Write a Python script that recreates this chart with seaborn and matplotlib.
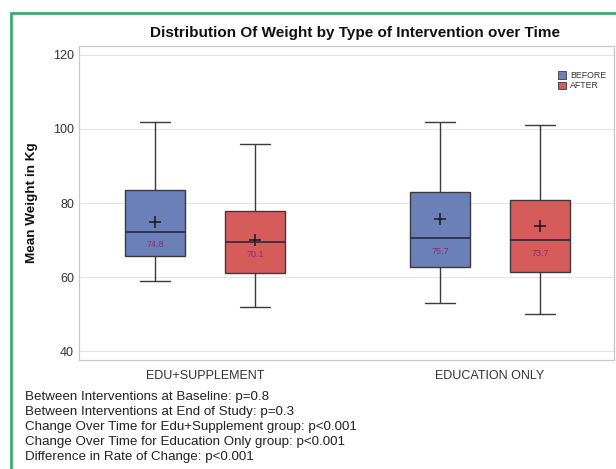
import numpy as np
import pandas as pd
import matplotlib
matplotlib.use("Agg")
import matplotlib.pyplot as plt
from matplotlib.patches import Patch, Rectangle
import seaborn as sns

# Five-number summaries per intervention and time point (kg)
interventions = ["EDU+SUPPLEMENT", "EDUCATION ONLY"]
times = ["BEFORE", "AFTER"]

edu_supp_before = [59, 65.7, 72.2, 83.5, 102]
edu_supp_after = [52, 61.1, 69.5, 77.8, 96]
edu_only_before = [53, 62.6, 70.5, 83.0, 102]
edu_only_after = [50, 61.5, 69.9, 80.9, 101]

# Group means shown as "+" and as value labels
mean_edu_supp = [74.8, 70.1]
mean_edu_only = [75.7, 73.7]

footnotes = [
    "Between Interventions at Baseline: p=0.8",
    "Between Interventions at End of Study: p=0.3",
    "Change Over Time for Edu+Supplement group: p<0.001",
    "Change Over Time for Education Only group: p<0.001",
    "Difference in Rate of Change: p<0.001",
]

summaries = {
    ("EDU+SUPPLEMENT", "BEFORE"): edu_supp_before,
    ("EDU+SUPPLEMENT", "AFTER"): edu_supp_after,
    ("EDUCATION ONLY", "BEFORE"): edu_only_before,
    ("EDUCATION ONLY", "AFTER"): edu_only_after,
}
means = {
    "EDU+SUPPLEMENT": mean_edu_supp,
    "EDUCATION ONLY": mean_edu_only,
}

rows = []
for (grp, t), vals in summaries.items():
    for v in vals:
        rows.append({"Intervention": grp, "Time": t, "Weight": v})
box_df = pd.DataFrame(rows)

mean_rows = []
for grp in interventions:
    for t, m in zip(times, means[grp]):
        mean_rows.append({"Intervention": grp, "Time": t, "Mean": m})
mean_df = pd.DataFrame(mean_rows)

sns.set_theme(style="white")
plt.rcParams["font.family"] = ["Liberation Sans", "DejaVu Sans"]

palette = {"BEFORE": "#6b7fb9", "AFTER": "#d65b5b"}
edge = "#3a3a3a"

fig = plt.figure(figsize=(6.16, 4.69), dpi=100)
ax = fig.add_axes([79 / 616, 1 - 360 / 469, 535 / 616, 314 / 469])

sns.boxplot(
    data=box_df, x="Intervention", y="Weight", hue="Time",
    order=interventions, hue_order=times, palette=palette,
    width=0.7, gap=0.4, whis=(0, 100), saturation=1,
    linecolor=edge, linewidth=1.0, fliersize=0, legend=False, ax=ax,
    medianprops={"color": "#2a2a40", "linewidth": 1.2},
)

sns.pointplot(
    data=mean_df, x="Intervention", y="Mean", hue="Time",
    order=interventions, hue_order=times, palette={t: "#1a1a1a" for t in times},
    dodge=0.35, markers="+", linestyle="none", errorbar=None,
    markersize=9, markeredgewidth=1.1, legend=False, ax=ax,
)

# Mean value labels placed just under each median line
offsets = {"BEFORE": -0.175, "AFTER": 0.175}
for i, grp in enumerate(interventions):
    for t, m in zip(times, means[grp]):
        med = summaries[(grp, t)][2]
        ax.text(i + offsets[t], med - 3.5, f"{m:.1f}", ha="center", va="center",
                fontsize=6.5, color="#8a2c7a")

ax.set_xlim(-0.442, 1.435)
ax.set_ylim(37.6, 122.4)
ax.set_yticks([40, 60, 80, 100, 120])
ax.yaxis.grid(True, color="#e6e6e6", linewidth=0.8)
ax.set_axisbelow(True)
ax.set_xlabel("")
ax.set_ylabel("")
ax.tick_params(axis="both", length=0, labelsize=9, colors="#333333")
ax.tick_params(axis="x", pad=7)
for s in ax.spines.values():
    s.set_color("#c8c8c8")
    s.set_linewidth(0.9)

handles = [Patch(facecolor=palette[t], edgecolor=edge, linewidth=0.6, label=t) for t in times]
ax.legend(handles=handles, loc="upper right", bbox_to_anchor=(1.0, 0.945), frameon=False,
          fontsize=6.3, handlelength=0.9, handleheight=0.9, handletextpad=0.5,
          labelspacing=0.15, labelcolor="#333333")

fig.text(355 / 616, 1 - 33 / 469, "Distribution Of Weight by Type of Intervention over Time",
         ha="center", va="center", fontsize=11, fontweight="bold", color="#111111")
fig.text(32 / 616, 1 - 203 / 469, "Mean Weight in Kg", rotation=90, ha="center", va="center",
         fontsize=9.7, fontweight="bold", color="#111111")

for k, line in enumerate(footnotes):
    fig.text(25 / 616, 1 - (396.5 + 15 * k) / 469, line, ha="left", va="center",
             fontsize=9.6, color="#222222")

# Green frame around the panel
fig.patches.append(Rectangle((11 / 616, -0.05), 1.2, (1 - 13 / 469) + 0.05,
                             transform=fig.transFigure, fill=False,
                             edgecolor="#3daa6e", linewidth=2.0, clip_on=False))

fig.savefig("out.png", dpi=100)
